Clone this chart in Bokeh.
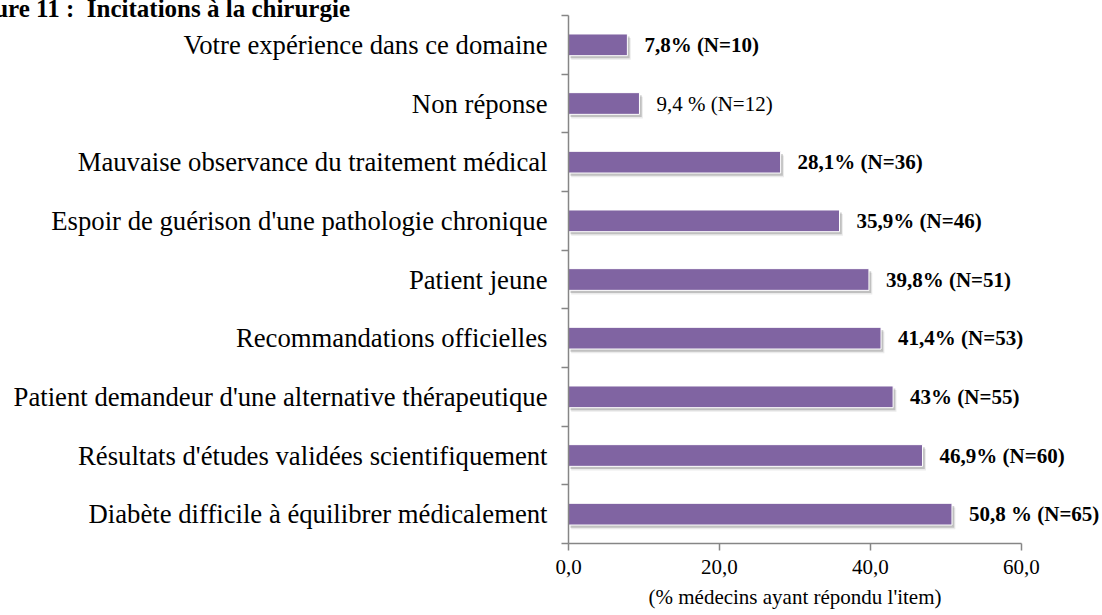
from bokeh.plotting import figure
from bokeh.models import (ColumnDataSource, Range1d, FixedTicker, LabelSet, Title)
from bokeh.transform import dodge
from bokeh.embed import file_html
from bokeh.resources import INLINE

# ---- data (top to bottom) ----
categories = [
    "Votre expérience dans ce domaine",
    "Non réponse",
    "Mauvaise observance du traitement médical",
    "Espoir de guérison d'une pathologie chronique",
    "Patient jeune",
    "Recommandations officielles",
    "Patient demandeur d'une alternative thérapeutique",
    "Résultats d'études validées scientifiquement",
    "Diabète difficile à équilibrer médicalement",
]
values = [7.8, 9.4, 28.1, 35.9, 39.8, 41.4, 43.0, 46.9, 50.8]
value_labels = ["7,8% (N=10)", "9,4 % (N=12)", "28,1% (N=36)", "35,9% (N=46)",
                "39,8% (N=51)", "41,4% (N=53)", "43% (N=55)", "46,9% (N=60)",
                "50,8 % (N=65)"]
label_bold = [True, False, True, True, True, True, True, True, True]
x_ticks = [0, 20, 40, 60]
x_tick_labels = ["0,0", "20,0", "40,0", "60,0"]
title_text = "Figure 11 :\u00a0 Incitations à la chirurgie"
x_axis_title = "(% médecins ayant répondu l'item)"

n = len(categories)
ypos = [n - 0.5 - i for i in range(n)]

FONT = "'Liberation Serif', 'Times New Roman', serif"
BAR = "#8064A2"
AXIS = "#868686"

p = figure(width=1102, height=615, output_backend="svg", toolbar_location=None,
           x_range=Range1d(0, 70.74), y_range=Range1d(0, n),
           min_border_left=568, min_border_right=0, min_border_top=15,
           min_border_bottom=69, title=title_text)
p.outline_line_color = None
p.grid.visible = False
p.background_fill_color = "white"

p.title.align = "left"
p.title.vertical_align = "middle"
p.title.offset = -609
p.title.standoff = -15
p.title.text_font = FONT
p.title.text_font_size = "25px"
p.title.text_font_style = "bold"
p.title.text_color = "black"

src = ColumnDataSource(dict(y=ypos, value=values, zero=[0] * n))

# soft shadow layers
p.hbar(y=dodge("y", -0.07, range=p.y_range), left=dodge("zero", 0.35, range=p.x_range),
       right=dodge("value", 0.45, range=p.x_range), height=0.37, source=src,
       fill_color="#000000", fill_alpha=0.08, line_color=None)
p.hbar(y=dodge("y", -0.045, range=p.y_range), left=dodge("zero", 0.25, range=p.x_range),
       right=dodge("value", 0.3, range=p.x_range), height=0.37, source=src,
       fill_color="#000000", fill_alpha=0.18, line_color=None)
p.hbar(y="y", left=0, right="value", height=0.37, source=src,
       fill_color=BAR, line_color="#ffffff", line_width=1)

# value labels
bold_src = ColumnDataSource(dict(
    y=[ypos[i] for i in range(n) if label_bold[i]],
    x=[values[i] for i in range(n) if label_bold[i]],
    t=[value_labels[i] for i in range(n) if label_bold[i]]))
norm_src = ColumnDataSource(dict(
    y=[ypos[i] for i in range(n) if not label_bold[i]],
    x=[values[i] for i in range(n) if not label_bold[i]],
    t=[value_labels[i] for i in range(n) if not label_bold[i]]))
p.add_layout(LabelSet(x="x", y="y", text="t", source=bold_src, x_offset=17,
                      text_font=FONT, text_font_size="21px", text_font_style="bold",
                      text_baseline="middle", text_color="black"))
p.add_layout(LabelSet(x="x", y="y", text="t", source=norm_src, x_offset=17,
                      text_font=FONT, text_font_size="21px", text_font_style="normal",
                      text_baseline="middle", text_color="black"))

# y axis: labels at row centres, ticks at row boundaries
ya = p.yaxis[0]
ya.ticker = FixedTicker(ticks=ypos, minor_ticks=list(range(n + 1)))
ya.major_label_overrides = {y: c for y, c in zip(ypos, categories)}
ya.major_tick_line_color = None
ya.major_tick_out = 0
ya.major_tick_in = 0
ya.minor_tick_out = 7
ya.minor_tick_in = 0
ya.minor_tick_line_color = AXIS
ya.minor_tick_line_width = 1.5
ya.axis_line_color = AXIS
ya.axis_line_width = 1.5
ya.major_label_standoff = 14
ya.major_label_text_font = FONT
ya.major_label_text_font_size = "26.7px"
ya.major_label_text_color = "black"

# x axis
xa = p.xaxis[0]
xa.bounds = (0, 60)
xa.ticker = FixedTicker(ticks=x_ticks, minor_ticks=[])
xa.major_label_overrides = {t: l for t, l in zip(x_ticks, x_tick_labels)}
xa.major_tick_out = 7
xa.major_tick_in = 0
xa.major_tick_line_color = AXIS
xa.major_tick_line_width = 1.5
xa.minor_tick_line_color = None
xa.axis_line_color = AXIS
xa.axis_line_width = 1.5
xa.major_label_standoff = 9
xa.major_label_text_font = FONT
xa.major_label_text_font_size = "21px"
xa.major_label_text_color = "black"

# axis title, centred under the 0-60 axis
p.add_layout(Title(text=x_axis_title, align="left", offset=80, standoff=13,
                   vertical_align="bottom",
                   text_font=FONT, text_font_size="21px", text_font_style="normal",
                   text_color="black"), "below")

open("out.html", "w").write(file_html(p, INLINE))
